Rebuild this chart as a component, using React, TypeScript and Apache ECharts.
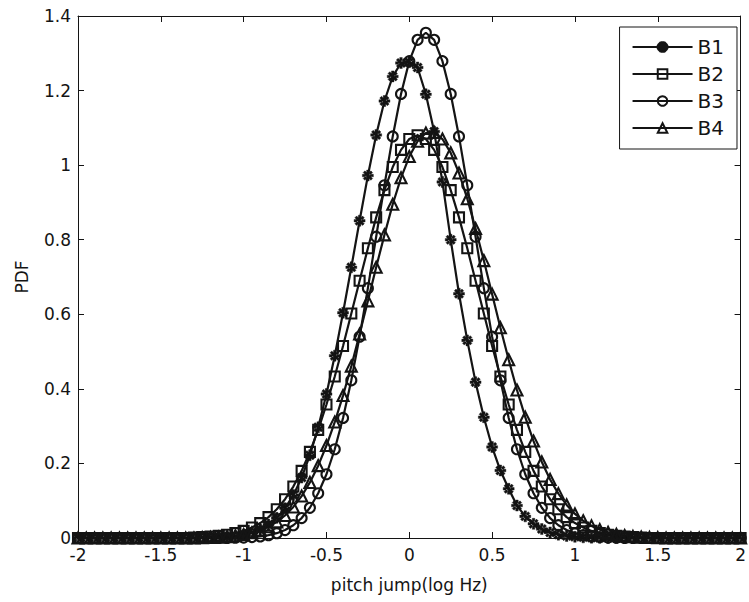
import React, { useEffect, useRef } from "react";
import * as echarts from "echarts";

// x grid (log Hz)
const xValues = [
  -2, -1.95, -1.9, -1.85, -1.8, -1.75, -1.7, -1.65, -1.6, -1.55,
  -1.5, -1.45, -1.4, -1.35, -1.3, -1.25, -1.2, -1.15, -1.1, -1.05,
  -1, -0.95, -0.9, -0.85, -0.8, -0.75, -0.7, -0.65, -0.6, -0.55,
  -0.5, -0.45, -0.4, -0.35, -0.3, -0.25, -0.2, -0.15, -0.1, -0.05,
  0, 0.05, 0.1, 0.15, 0.2, 0.25, 0.3, 0.35, 0.4, 0.45,
  0.5, 0.55, 0.6, 0.65, 0.7, 0.75, 0.8, 0.85, 0.9, 0.95,
  1, 1.05, 1.1, 1.15, 1.2, 1.25, 1.3, 1.35, 1.4, 1.45,
  1.5, 1.55, 1.6, 1.65, 1.7, 1.75, 1.8, 1.85, 1.9, 1.95, 2,
];

const b1 = [
  0, 0, 0, 0, 0, 0, 0, 0, 0, 0,
  0, 0, 0, 0, 0, 0.0005, 0.0009, 0.0017, 0.003, 0.005,
  0.009, 0.014, 0.023, 0.036, 0.054, 0.08, 0.115, 0.162, 0.222, 0.297,
  0.386, 0.489, 0.604, 0.726, 0.851, 0.972, 1.081, 1.172, 1.238, 1.274,
  1.276, 1.262, 1.19, 1.09, 0.955, 0.8, 0.655, 0.53, 0.418, 0.324,
  0.244, 0.181, 0.132, 0.087, 0.058, 0.038, 0.024, 0.015, 0.009, 0.0055,
  0.0032, 0.0018, 0.001, 0.0005, 0.0003, 0, 0, 0, 0, 0,
  0, 0, 0, 0, 0, 0, 0, 0, 0, 0, 0,
];

const b2 = [
  0, 0, 0, 0, 0, 0, 0, 0, 0, 0,
  0, 0, 0, 0, 0.0014, 0.0023, 0.0036, 0.0056, 0.0086, 0.013,
  0.019, 0.028, 0.04, 0.056, 0.077, 0.104, 0.138, 0.18, 0.231, 0.29,
  0.358, 0.433, 0.515, 0.602, 0.69, 0.777, 0.86, 0.933, 0.995, 1.041,
  1.07, 1.08, 1.07, 1.041, 0.995, 0.933, 0.86, 0.777, 0.69, 0.602,
  0.515, 0.433, 0.358, 0.29, 0.231, 0.18, 0.138, 0.104, 0.077, 0.056,
  0.04, 0.028, 0.019, 0.013, 0.0086, 0.0056, 0.0036, 0.0023, 0.0014, 0,
  0, 0, 0, 0, 0, 0, 0, 0, 0, 0, 0,
];

const b3 = [
  0, 0, 0, 0, 0, 0, 0, 0, 0, 0,
  0, 0, 0, 0, 0, 0, 0, 0, 0.0003, 0.0007,
  0.0013, 0.0024, 0.0043, 0.0076, 0.0129, 0.0213, 0.0343, 0.0535, 0.081, 0.12,
  0.171, 0.238, 0.322, 0.423, 0.54, 0.67, 0.808, 0.946, 1.077, 1.191,
  1.279, 1.336, 1.355, 1.336, 1.279, 1.191, 1.077, 0.946, 0.808, 0.67,
  0.54, 0.423, 0.322, 0.238, 0.171, 0.12, 0.081, 0.0535, 0.0343, 0.0213,
  0.0129, 0.0076, 0.0043, 0.0024, 0.0013, 0.0007, 0.0003, 0, 0, 0,
  0, 0, 0, 0, 0, 0, 0, 0, 0, 0, 0,
];

const b4 = [
  0, 0, 0, 0, 0, 0, 0, 0, 0, 0,
  0, 0, 0, 0, 0, 0.0009, 0.0015, 0.0024, 0.0038, 0.006,
  0.0093, 0.014, 0.0208, 0.0302, 0.0432, 0.0605, 0.0833, 0.1125, 0.149, 0.194,
  0.248, 0.311, 0.382, 0.461, 0.547, 0.636, 0.726, 0.813, 0.895, 0.966,
  1.023, 1.064, 1.086, 1.088, 1.07, 1.033, 0.979, 0.91, 0.83, 0.744,
  0.654, 0.564, 0.478, 0.397, 0.324, 0.26, 0.204, 0.157, 0.119, 0.0886,
  0.0646, 0.0463, 0.0325, 0.0224, 0.0152, 0.0101, 0.0066, 0.0042, 0.0026, 0.0016,
  0.001, 0, 0, 0, 0, 0, 0, 0, 0, 0, 0,
];

const seriesNames = ["B1", "B2", "B3", "B4"];

export default function App() {
  const ref = useRef<HTMLDivElement>(null);

  useEffect(() => {
    document.body.style.margin = "0";
    if (!ref.current) return;
    const chart = echarts.init(ref.current, null, { renderer: "svg" });
    const ink = "#141414";
    const font = "DejaVu Sans";
    const star =
      "path://M-1.15,-5L1.15,-5L1.15,5L-1.15,5Z M-5,-1.15L5,-1.15L5,1.15L-5,1.15Z M-2.7,-4.3L4.3,2.7L2.7,4.3L-4.3,-2.7Z M-2.7,4.3L4.3,-2.7L2.7,-4.3L-4.3,2.7Z";

    const mk = (name: string, ys: number[], symbol: string, size: number, filled: boolean) => ({
      name,
      type: "line",
      data: xValues.map((x, i) => [x, ys[i]]),
      symbol,
      symbolSize: size,
      clip: false,
      color: ink,
      lineStyle: { color: ink, width: 2.2 },
      itemStyle: {
        color: filled ? ink : "rgba(0,0,0,0)",
        borderColor: ink,
        borderWidth: filled ? 0.4 : 2.1,
      },
      emphasis: { disabled: true },
      z: 2,
    });

    const axisCommon = {
      axisLine: { show: true, onZero: false, lineStyle: { color: ink, width: 1 } },
      axisTick: { show: true, inside: true, length: 6, lineStyle: { color: ink, width: 1 } },
      splitLine: { show: false },
    };

    chart.setOption({
      animation: false,
      backgroundColor: "#fff",
      grid: { left: 78, right: 7, top: 16, bottom: 64, containLabel: false },
      legend: {
        data: seriesNames,
        orient: "vertical",
        right: 12,
        top: 27,
        padding: [10, 13, 11, 12],
        itemWidth: 60,
        itemHeight: 12,
        itemGap: 7,
        borderColor: ink,
        borderWidth: 1,
        backgroundColor: "#fff",
        textStyle: { fontSize: 20, fontFamily: font, color: ink },
      },
      xAxis: [
        {
          type: "value",
          min: -2,
          max: 2,
          interval: 0.5,
          position: "bottom",
          ...axisCommon,
          axisLabel: { color: ink, fontSize: 17, fontFamily: font, margin: 8 },
          name: "pitch jump(log Hz)",
          nameLocation: "middle",
          nameGap: 38,
          nameTextStyle: { color: ink, fontSize: 17, fontFamily: font },
        },
        {
          type: "value",
          min: -2,
          max: 2,
          interval: 0.5,
          position: "top",
          ...axisCommon,
          axisLabel: { show: false },
        },
      ],
      yAxis: [
        {
          type: "value",
          min: 0,
          max: 1.4,
          interval: 0.2,
          position: "left",
          ...axisCommon,
          axisLabel: { color: ink, fontSize: 17, fontFamily: font, margin: 7 },
          name: "PDF",
          nameLocation: "middle",
          nameGap: 48,
          nameRotate: 90,
          nameTextStyle: { color: ink, fontSize: 17, fontFamily: font },
        },
        {
          type: "value",
          min: 0,
          max: 1.4,
          interval: 0.2,
          position: "right",
          ...axisCommon,
          axisLabel: { show: false },
        },
      ],
      series: [
        mk("B1", b1, star, 11, true),
        mk("B2", b2, "rect", 10, false),
        mk("B3", b3, "circle", 10, false),
        mk("B4", b4, "triangle", 11, false),
      ],
    });

    return () => chart.dispose();
  }, []);

  return (
    <div
      ref={ref}
      style={{ position: "fixed", left: 0, top: 0, width: 749, height: 602, background: "#fff" }}
    />
  );
}
